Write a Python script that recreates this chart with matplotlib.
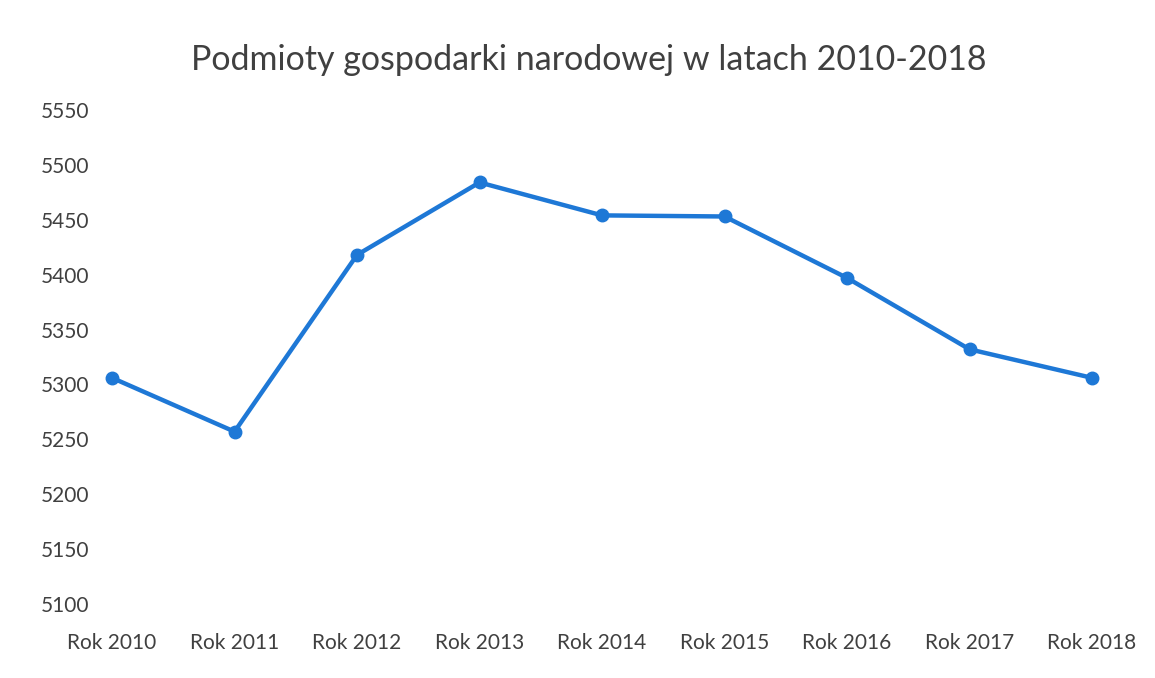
import matplotlib
matplotlib.use("Agg")
import matplotlib.pyplot as plt

categories = ["Rok 2010", "Rok 2011", "Rok 2012", "Rok 2013", "Rok 2014",
              "Rok 2015", "Rok 2016", "Rok 2017", "Rok 2018"]
values = [5306, 5257, 5418, 5484, 5454, 5453, 5397, 5332, 5306]
yticks = [5100, 5150, 5200, 5250, 5300, 5350, 5400, 5450, 5500, 5550]
title = "Podmioty gospodarki narodowej w latach 2010-2018"

plt.rcParams['font.family'] = ['Lato', 'DejaVu Sans']

W, H = 1155, 678
fig = plt.figure(figsize=(W / 100, H / 100), dpi=100)
left, right, top, bottom = 95, 1150, 110, 604
ax = fig.add_axes([left / W, 1 - bottom / H, (right - left) / W, (bottom - top) / H])

x = list(range(len(categories)))
ax.plot(x, values, color="#1e78d6", linewidth=3.2, marker="o", markersize=9,
        markerfacecolor="#1e78d6", markeredgecolor="#1e78d6", solid_capstyle="round")

ax.set_xlim(-0.139, 8.473)
ax.set_ylim(5100, 5550)
ax.set_yticks(yticks)
ax.set_yticklabels([str(v) for v in yticks])
ax.set_xticks(x)
ax.set_xticklabels(categories)
for s in ax.spines.values():
    s.set_visible(False)
ax.tick_params(axis="y", length=0, pad=4, labelsize=15, labelcolor="#404040")
ax.tick_params(axis="x", length=0, pad=21, labelsize=15, labelcolor="#404040")

fig.text(589 / W, 1 - 60 / H, title, ha="center", va="center", fontsize=24.5,
         color="#404040")

fig.savefig("out.png", dpi=100, facecolor="white")
